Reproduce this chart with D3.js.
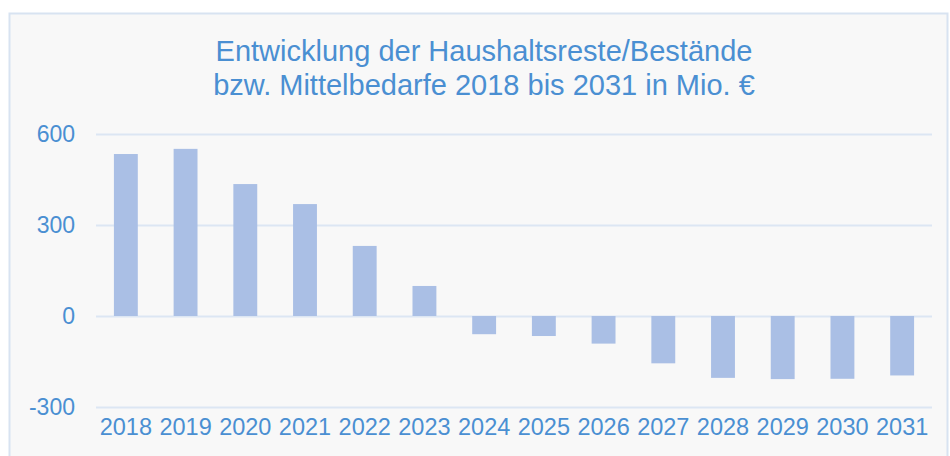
<!DOCTYPE html>
<html>
<head>
<meta charset="utf-8">
<script src="https://cdn.jsdelivr.net/npm/d3@7"></script>
<style>
  html, body { margin: 0; padding: 0; background: #ffffff; }
  svg { display: block; }
</style>
</head>
<body>
<svg id="chart" width="950" height="456"></svg>
<script>
const titleLines = ["Entwicklung der Haushaltsreste/Bestände", "bzw. Mittelbedarfe 2018 bis 2031 in Mio. €"];
const years = ["2018","2019","2020","2021","2022","2023","2024","2025","2026","2027","2028","2029","2030","2031"];
const values = [534, 551, 435, 369, 231, 99, -60, -66, -91, -156, -204, -208, -207, -196];
const yTicks = [-300, 0, 300, 600];
const yTickLabels = ["-300", "0", "300", "600"];

const textColor = "#4a8fd2";
const barColor = "#aabfe5";
const gridColor = "#dce6f3";
const font = "'Liberation Sans', Arial, sans-serif";

const svg = d3.select("#chart");

// chart area background + border
svg.append("rect")
  .attr("x", 9.5).attr("y", 13.5)
  .attr("width", 938).attr("height", 460)
  .attr("fill", "#f8f8f8")
  .attr("stroke", "#d8e3f1").attr("stroke-width", 2);

// title
const title = svg.append("text")
  .attr("x", 484).attr("text-anchor", "middle")
  .attr("font-family", font).attr("font-size", 29)
  .attr("fill", textColor);
titleLines.forEach((t, i) => {
  title.append("tspan").attr("x", 484).attr("y", 61 + i * 33.5).text(t);
});

const x = d3.scaleBand().domain(years).range([96, 932]).paddingInner(0.6).paddingOuter(0.3);
const y = d3.scaleLinear().domain([-300, 600]).range([407, 134]);

// gridlines
const yAxis = d3.axisLeft(y).tickValues(yTicks).tickSize(-(932 - 96)).tickPadding(21)
  .tickFormat((d, i) => yTickLabels[i]);
const gy = svg.append("g").attr("transform", "translate(96,0)").call(yAxis);
gy.select(".domain").remove();
gy.selectAll(".tick line").attr("stroke", gridColor).attr("stroke-width", 2);
gy.selectAll(".tick text")
  .attr("fill", textColor).attr("font-family", font).attr("font-size", 23)
  .attr("dy", "0.34em");

// bars
svg.append("g").selectAll("rect").data(values).join("rect")
  .attr("x", (d, i) => x(years[i]))
  .attr("width", x.bandwidth())
  .attr("y", d => y(Math.max(0, d)))
  .attr("height", d => Math.abs(y(d) - y(0)))
  .attr("fill", barColor);

// x axis labels
const xAxis = d3.axisBottom(x).tickSize(0).tickPadding(0);
const gx = svg.append("g").attr("transform", "translate(0,418)").call(xAxis);
gx.select(".domain").remove();
gx.selectAll(".tick text")
  .attr("fill", textColor).attr("font-family", font).attr("font-size", 23.5)
  .attr("dy", "0.71em");
</script>
</body>
</html>
